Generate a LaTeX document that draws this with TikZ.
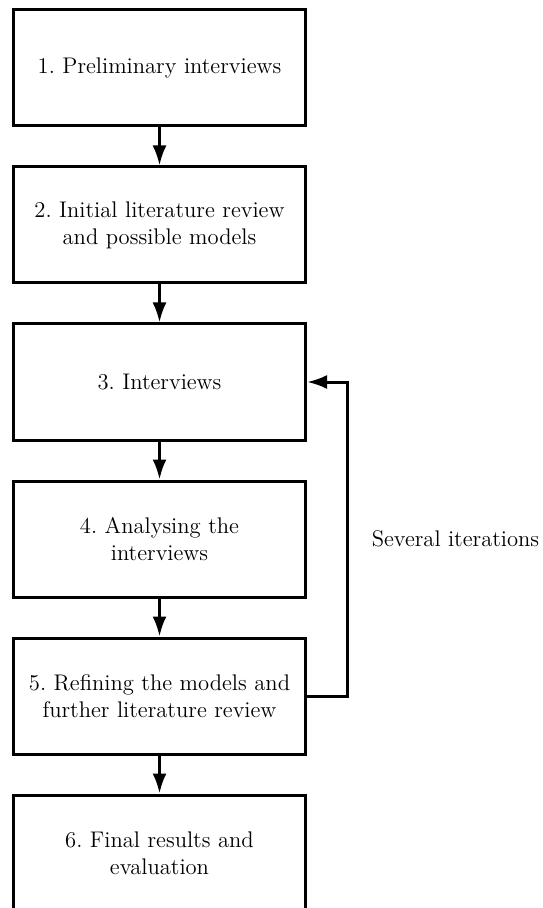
\documentclass[tikz,border=0pt]{standalone}
\usepackage{amsmath}
\usepackage{tikz}
\usetikzlibrary{arrows.meta, positioning, calc}
\frenchspacing

\begin{document}
\begin{tikzpicture}[x=0.5pt, y=-0.5pt,
  stagebox/.style={draw, line width=1.5pt, minimum width=146pt, minimum height=58pt,
    text width=140pt, align=center, inner sep=0pt, font=\fontsize{11.3}{13.5}\selectfont},
  flow/.style={line width=1.5pt, -{Latex[length=10pt, width=7pt]}},
  node distance=19pt]
\useasboundingbox (0,0) rectangle (542,908);

\node[stagebox] (s1) at (159.5,68) {1. Preliminary interviews};
\node[stagebox, below=of s1] (s2) {2. Initial literature review\\ and possible models};
\node[stagebox, below=of s2] (s3) {3. Interviews};
\node[stagebox, below=of s3] (s4) {4. Analysing the\\ interviews};
\node[stagebox, below=of s4] (s5) {5. Refining the models and\\ further literature review};
\node[stagebox, below=of s5] (s6) {6. Final results and\\ evaluation};

\foreach \a/\b in {s1/s2, s2/s3, s3/s4, s4/s5, s5/s6} {
  \draw[flow] (\a) -- (\b);
}

% loop back from 5 to 3
\coordinate (loop) at (347,0);
\draw[flow] (s5.east) -- (s5.east -| loop) -- (s3.east -| loop) -- (s3.east);
\node[font=\fontsize{11.3}{13.5}\selectfont] (iter) at (455.5,539) {Several iterations};
\end{tikzpicture}
\end{document}
